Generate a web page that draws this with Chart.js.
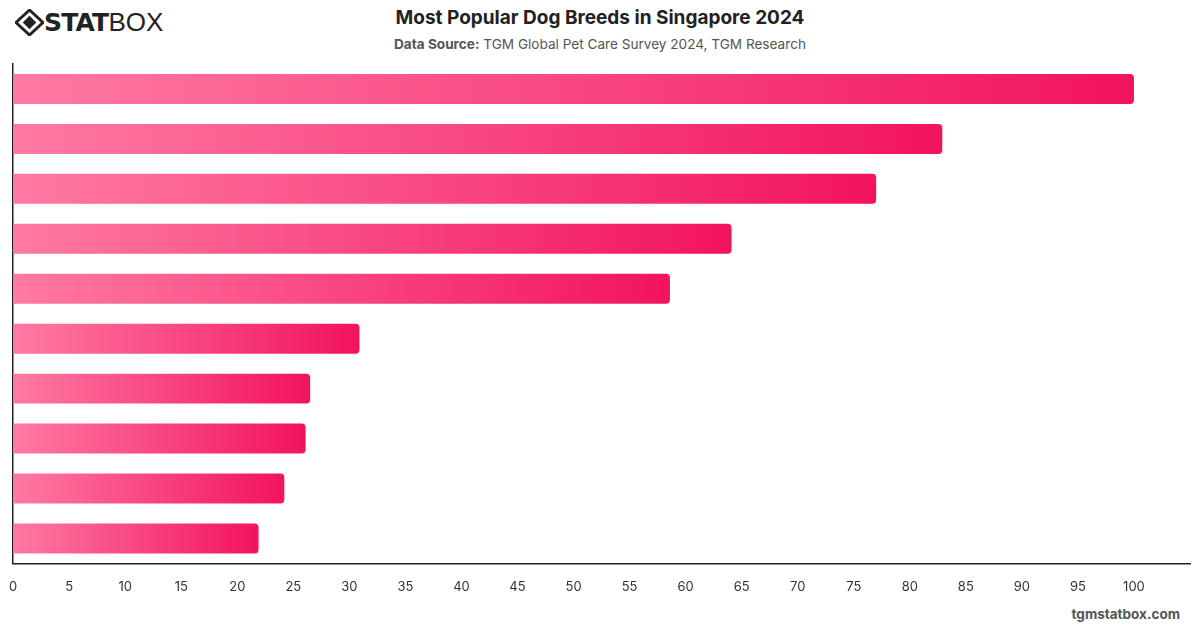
<!DOCTYPE html>
<html>
<head>
<meta charset="utf-8">
<script src="https://cdn.jsdelivr.net/npm/chart.js@4"></script>
<style>
  body { margin: 0; width: 1200px; height: 628px; background: #fff; font-family: Inter, "Liberation Sans", sans-serif; position: relative; overflow: hidden; }
  #logo { position: absolute; left: 15px; top: 7px; display: flex; align-items: center; }
  #logo .stat { font-family: "DejaVu Sans", sans-serif; font-weight: 900; font-size: 25px; color: #222; letter-spacing: -0.8px; }
  #logo .box { font-family: "Liberation Sans", sans-serif; font-weight: 400; font-size: 26px; color: #222; }
  #title { position: absolute; left: 0; width: 1200px; top: 6px; text-align: center; font-size: 19px; font-weight: 700; color: #222; }
  #sub { position: absolute; left: 0; width: 1200px; top: 36px; text-align: center; font-size: 13.6px; color: #555; }
  #sub b { color: #555; }
  #foot { position: absolute; right: 20px; top: 606px; font-size: 13.5px; font-weight: 700; color: #555; }
  #wrap { position: absolute; left: -7px; top: 56px; width: 1207px; height: 555px; }
</style>
</head>
<body>
<div id="logo">
  <svg width="29" height="27" viewBox="0 0 30 28">
    <polygon points="15,1 29,14 15,27 1,14" fill="none" stroke="#222" stroke-width="3"/>
    <polygon points="15,7 22,14 15,21 8,14" fill="#222"/>
  </svg>
  <span class="stat">STAT</span><span class="box">BOX</span>
</div>
<div id="title">Most Popular Dog Breeds in Singapore 2024</div>
<div id="sub"><b>Data Source:</b> TGM Global Pet Care Survey 2024, TGM Research</div>
<div id="foot">tgmstatbox.com</div>
<div id="wrap"><canvas id="chart"></canvas></div>
<script>
const categories = ["1", "2", "3", "4", "5", "6", "7", "8", "9", "10"];
const values = [100, 82.9, 77.0, 64.1, 58.6, 30.9, 26.5, 26.1, 24.2, 21.9];
const xTicks = [0, 5, 10, 15, 20, 25, 30, 35, 40, 45, 50, 55, 60, 65, 70, 75, 80, 85, 90, 95, 100];

function barGradient(context) {
  const chart = context.chart;
  const area = chart.chartArea;
  if (!area) return "#f7286e";
  const xs = chart.scales.x;
  const x0 = xs.getPixelForValue(0);
  const x1 = xs.getPixelForValue(context.raw);
  const g = chart.ctx.createLinearGradient(x0, 0, x1, 0);
  g.addColorStop(0, "#ff7aa2");
  g.addColorStop(1, "#f2135f");
  return g;
}

new Chart(document.getElementById("chart").getContext("2d"), {
  type: "bar",
  data: {
    labels: categories,
    datasets: [{
      data: values,
      backgroundColor: barGradient,
      borderRadius: 4,
      borderSkipped: "start",
      barPercentage: 0.6,
      categoryPercentage: 1,
    }],
  },
  options: {
    indexAxis: "y",
    responsive: true,
    maintainAspectRatio: false,
    animation: false,
    layout: { padding: { left: 10, right: 10, top: 8, bottom: 0 } },
    plugins: {
      legend: { display: false },
      tooltip: { enabled: false },
    },
    scales: {
      x: {
        min: 0,
        max: 105,
        afterBuildTicks: (axis) => {
          axis.ticks = xTicks.map((v) => ({ value: v }));
        },
        ticks: {
          color: "#333",
          font: { family: "Inter, 'Liberation Sans', sans-serif", size: 13 },
          padding: 16,
          maxRotation: 0,
        },
        grid: { display: false, drawTicks: false },
        border: { display: true, color: "#222", width: 1.5 },
      },
      y: {
        ticks: { display: false },
        grid: { display: false, drawTicks: false },
        border: { display: true, color: "#222", width: 1.5 },
      },
    },
  },
});
</script>
</body>
</html>
